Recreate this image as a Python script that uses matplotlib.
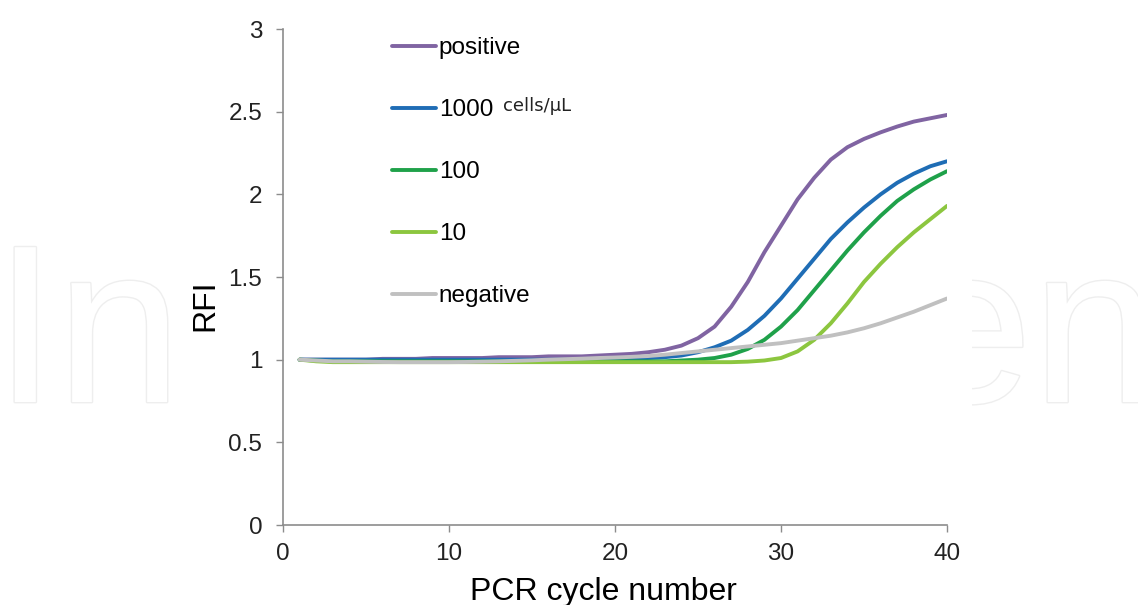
import numpy as np
import matplotlib
matplotlib.use("Agg")
import matplotlib.pyplot as plt
import matplotlib.patheffects as pe
from matplotlib.patches import Rectangle

plt.rcParams["font.family"] = ["Liberation Sans", "DejaVu Sans"]

cycles = list(range(1, 41))

positive = [1.00, 1.00, 1.00, 1.00, 1.00, 1.005, 1.005, 1.005, 1.01, 1.01,
            1.01, 1.01, 1.015, 1.015, 1.015, 1.02, 1.02, 1.02, 1.025, 1.03,
            1.035, 1.045, 1.06, 1.085, 1.13, 1.20, 1.32, 1.47, 1.65, 1.81,
            1.97, 2.10, 2.21, 2.285, 2.335, 2.375, 2.41, 2.44, 2.46, 2.48]
c1000 = [1.00, 1.00, 1.00, 1.00, 1.00, 1.00, 1.00, 1.00, 1.00, 1.00,
         1.00, 1.00, 1.00, 1.00, 1.00, 1.00, 1.00, 1.00, 1.00, 1.00,
         1.005, 1.01, 1.015, 1.025, 1.045, 1.075, 1.115, 1.18, 1.265, 1.37,
         1.49, 1.61, 1.73, 1.83, 1.92, 2.00, 2.07, 2.125, 2.17, 2.20]
c100 = [1.00, 0.995, 0.99, 0.99, 0.99, 0.99, 0.99, 0.99, 0.99, 0.99,
        0.99, 0.99, 0.99, 0.99, 0.99, 0.99, 0.99, 0.99, 0.99, 0.99,
        0.99, 0.99, 0.99, 0.995, 1.00, 1.01, 1.03, 1.065, 1.12, 1.20,
        1.30, 1.42, 1.54, 1.66, 1.77, 1.87, 1.96, 2.03, 2.09, 2.14]
c10 = [1.00, 0.99, 0.985, 0.985, 0.985, 0.985, 0.985, 0.985, 0.985, 0.985,
       0.985, 0.985, 0.985, 0.985, 0.985, 0.985, 0.985, 0.985, 0.985, 0.985,
       0.985, 0.985, 0.985, 0.985, 0.985, 0.985, 0.985, 0.988, 0.995, 1.01,
       1.05, 1.12, 1.22, 1.34, 1.47, 1.58, 1.68, 1.77, 1.85, 1.93]
negative = [1.00, 0.995, 0.99, 0.99, 0.988, 0.986, 0.985, 0.985, 0.985, 0.985,
            0.986, 0.988, 0.99, 0.993, 0.996, 1.00, 1.003, 1.006, 1.01, 1.013,
            1.017, 1.022, 1.03, 1.04, 1.05, 1.06, 1.07, 1.08, 1.09, 1.10,
            1.115, 1.13, 1.145, 1.165, 1.19, 1.22, 1.255, 1.29, 1.33, 1.37]

labels = ["positive", "1000", "100", "10", "negative"]
colors = ["#8064a2", "#1f6db5", "#1fa14a", "#8cc63f", "#c0c0c0"]
series = [positive, c1000, c100, c10, negative]

fig = plt.figure(figsize=(11.38, 6.05), dpi=100)
ax = fig.add_axes([283 / 1138, 1 - 525 / 605, (947 - 283) / 1138, (525 - 29) / 605])
ax.patch.set_alpha(0)

# faint watermark, hidden behind a white box where the chart sits
fig.text(-6 / 1138, 1 - 402 / 605, "IntechOpen", fontsize=162, color="white",
         va="baseline", ha="left", zorder=-5,
         path_effects=[pe.withStroke(linewidth=2, foreground="#eeeeee")])
fig.patches.append(Rectangle((181 / 1138, 0), (972 - 181) / 1138, 1,
                             transform=fig.transFigure, facecolor="white",
                             edgecolor="none", zorder=-2))

for vals, lab, col in zip(series, labels, colors):
    ax.plot(cycles, vals, color=col, lw=2.8, label=lab,
            solid_capstyle="round", solid_joinstyle="round")

ax.set_xlim(0, 40)
ax.set_ylim(0, 3)
ax.set_xticks([0, 10, 20, 30, 40])
ax.set_yticks([0, 0.5, 1, 1.5, 2, 2.5, 3])
ax.set_yticklabels(["0", "0.5", "1", "1.5", "2", "2.5", "3"])

for s in ["top", "right"]:
    ax.spines[s].set_visible(False)
for s in ["left", "bottom"]:
    ax.spines[s].set_color("#8c8c8c")
    ax.spines[s].set_linewidth(1.2)

ax.tick_params(axis="both", direction="out", length=5, width=1, color="#8c8c8c",
               labelsize=17.5, labelcolor="#222222")
ax.tick_params(axis="y", pad=10)
ax.tick_params(axis="x", pad=8)

ax.set_xlabel("PCR cycle number", fontsize=23)
ax.xaxis.set_label_coords(0.483, -0.105)
ax.set_ylabel("RFI", fontsize=23)
ax.yaxis.set_label_coords(-0.095, 0.4435)

ax.legend(loc="upper left", bbox_to_anchor=(392 / 1138, 1 - 37 / 605),
          bbox_transform=fig.transFigure, frameon=False, fontsize=17.5,
          handlelength=1.8, handletextpad=0.12, labelspacing=1.65,
          borderpad=0, borderaxespad=0)

fig.text(503 / 1138, 1 - 106 / 605, "cells/\u03bcL", fontsize=13, color="#222222",
         family=["DejaVu Sans"], va="center", ha="left")

fig.savefig("out.png", dpi=100)
